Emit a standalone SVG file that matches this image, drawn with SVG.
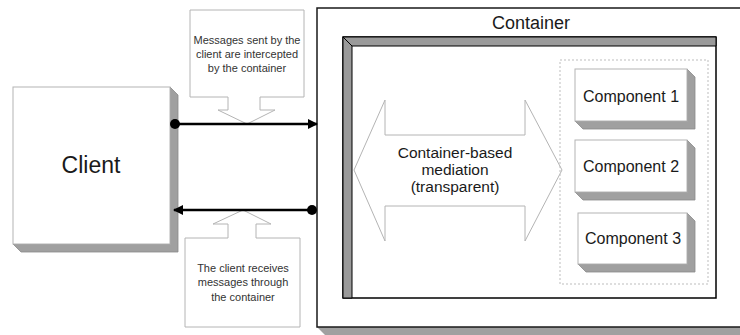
<svg xmlns="http://www.w3.org/2000/svg" width="740" height="335" viewBox="0 0 740 335">
<style>
text{font-family:"Liberation Sans",Arial,sans-serif;fill:#1a1a1a;text-anchor:middle}
.face{fill:#fff;stroke:#b4b4b4;stroke-width:1}
.ext{fill:#a0a0a0;stroke:#8a8a8a;stroke-width:0.8}
.call{fill:#fff;stroke:#b4b4b4;stroke-width:1}
.conn{stroke:#000;stroke-width:2.5;fill:none}
.small{font-size:11px;fill:#333}
.comp{font-size:16px}
</style>
<defs>
<marker id="ah" markerWidth="10" markerHeight="10" refX="9" refY="5" orient="auto" markerUnits="userSpaceOnUse">
<path d="M0,0 L10,5 L0,10 Z" fill="#000"/>
</marker>
</defs>
<rect width="740" height="335" fill="#fff"/>

<g id="container">
<polygon points="317,327 745,327 745,335 325,335" fill="#a0a0a0"/>
<rect x="317" y="8" width="430" height="319" fill="#fff" stroke="#1a1a1a" stroke-width="1.5"/>
<text x="531" y="29" font-size="18">Container</text>
<rect x="343" y="37" width="373" height="261" fill="#fff" stroke="#000" stroke-width="1.5"/>
<polygon points="343,37 716,37 716,46 352,46 352,298 343,298" fill="#9a9a9a" stroke="#000" stroke-width="1"/>
<line x1="343" y1="37" x2="352" y2="46" stroke="#000" stroke-width="1"/>
</g>

<g id="mediation">
<polygon points="354,170 385,100 385,135 525,135 525,100 562,170 525,241 525,206 385,206 385,241" fill="#fff" stroke="#b4b4b4" stroke-width="1"/>
<text x="455" y="158" font-size="15.5">Container-based</text>
<text x="455" y="175" font-size="15.5">mediation</text>
<text x="455" y="192" font-size="15.5">(transparent)</text>
</g>

<g id="components-group">
<rect x="560" y="60" width="148" height="224" fill="none" stroke="#bdbdbd" stroke-width="1" stroke-dasharray="2,2"/>
</g>

<g id="component1">
<polygon points="687,69 695,77 695,129 583,129 575,121 687,121" class="ext"/>
<rect x="575" y="69" width="112" height="52" class="face"/>
<text x="631" y="102" class="comp">Component 1</text>
</g>
<g id="component2">
<polygon points="687,140 695,148 695,200 583,200 575,192 687,192" class="ext"/>
<rect x="575" y="140" width="112" height="52" class="face"/>
<text x="631" y="172" class="comp">Component 2</text>
</g>
<g id="component3">
<polygon points="687,213 695,221 695,272 586,272 578,264 687,264" class="ext"/>
<rect x="578" y="213" width="109" height="51" class="face"/>
<text x="633" y="244" class="comp">Component 3</text>
</g>

<g id="client">
<polygon points="170,87 178,95 178,252 21,252 13,244 170,244" class="ext"/>
<rect x="13" y="87" width="157" height="157" class="face"/>
<text x="91" y="173" font-size="23">Client</text>
</g>

<g id="callout-top">
<polygon points="190,10 304,10 304,97 260,97 260,110 275,110 247,124 218,110 228,110 228,97 190,97" class="call"/>
<text x="247" y="44" class="small">Messages sent by the</text>
<text x="247" y="58" class="small">client are intercepted</text>
<text x="247" y="72" class="small">by the container</text>
</g>

<g id="callout-bottom">
<polygon points="185,238 228,238 228,224 213,224 243,210 271,224 256,224 256,238 300,238 300,327 185,327" class="call"/>
<text x="243" y="272" class="small">The client receives</text>
<text x="243" y="286" class="small">messages through</text>
<text x="243" y="301" class="small">the container</text>
</g>

<g id="connectors">
<line x1="175" y1="124" x2="317" y2="124" class="conn" marker-end="url(#ah)"/>
<circle cx="175" cy="124" r="5" fill="#000"/>
<line x1="312" y1="210" x2="174" y2="210" class="conn" marker-end="url(#ah)"/>
<circle cx="312" cy="210" r="5" fill="#000"/>
</g>
</svg>
